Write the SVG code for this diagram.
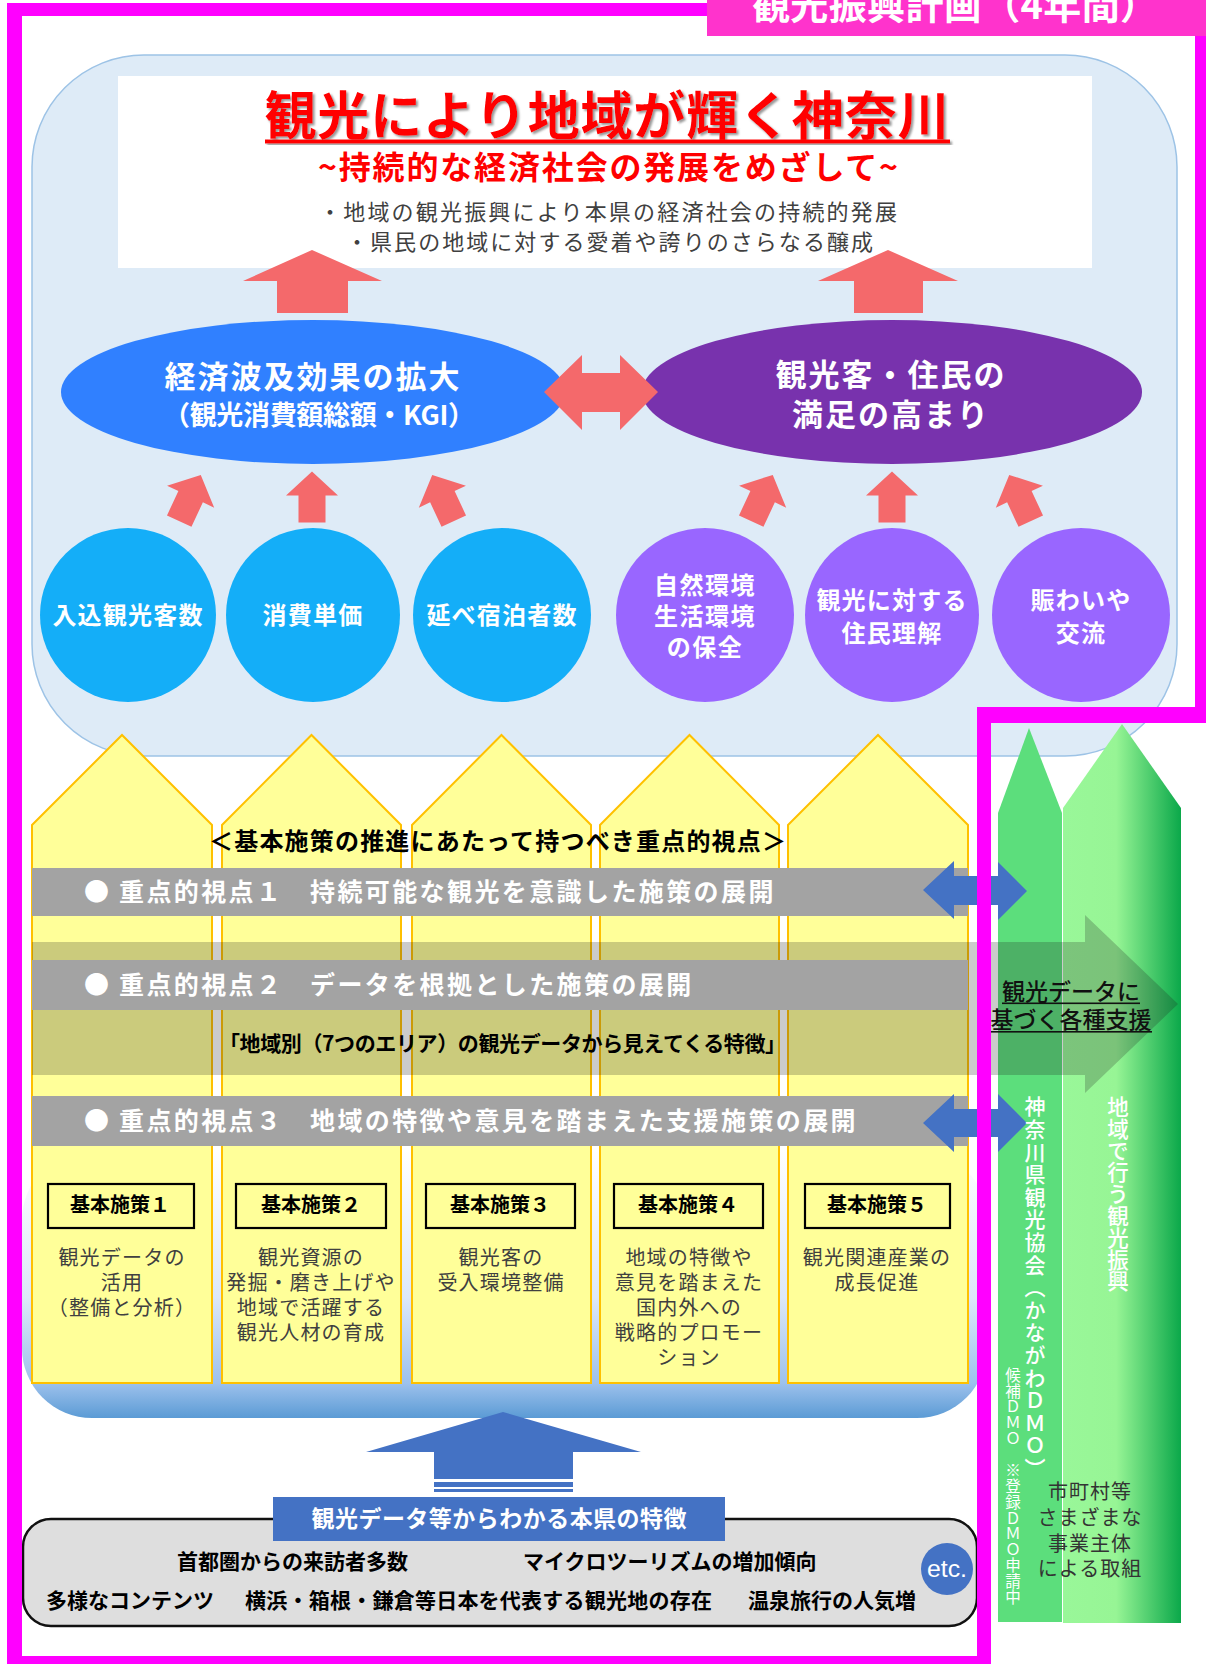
<svg xmlns="http://www.w3.org/2000/svg" width="1206" height="1664" viewBox="0 0 1206 1664">
<defs>
<style>
.jp{font-family:'Noto Sans CJK JP','Noto Sans CJK SC',sans-serif}
.b{font-weight:bold}
.w{fill:#ffffff}
.k{fill:#000000}
.g{fill:#404040}
.mid{text-anchor:middle}
.col{fill:#FFFF99;stroke:#FFC000;stroke-width:2}
.bar{fill:#A3A3A3}
.salmon{fill:#F4696B}
.blue{fill:#4472C4}
.cb{fill:#14AEF8}
.cp{fill:#9966FF}
.kbox{fill:#FFFF99;stroke:#000;stroke-width:2.2}
.vt{writing-mode:vertical-rl}
.mag{fill:#FF00FF}
</style>
<filter id="shadow" x="-5%" y="-20%" width="110%" height="140%">
<feDropShadow dx="2" dy="2" stdDeviation="1" flood-color="#7f7f7f" flood-opacity="0.8"/>
</filter>
<linearGradient id="botGrad" gradientUnits="userSpaceOnUse" x1="0" y1="1150" x2="0" y2="1418">
<stop offset="0" stop-color="#FFFFFF"/>
<stop offset="0.55" stop-color="#DDE8F8"/>
<stop offset="0.87" stop-color="#9DC1EC"/>
<stop offset="1" stop-color="#5B9BD5"/>
</linearGradient>
<linearGradient id="greenGrad" gradientUnits="userSpaceOnUse" x1="1063" y1="0" x2="1181" y2="0">
<stop offset="0" stop-color="#99F799"/>
<stop offset="0.45" stop-color="#97F595"/>
<stop offset="1" stop-color="#0BA84A"/>
</linearGradient>
<path id="upArrow" d="M0,-25.5 L26,-1.5 L13.5,-1.5 L13.5,25.5 L-13.5,25.5 L-13.5,-1.5 L-26,-1.5 Z"/>
</defs>

<rect x="0" y="0" width="1206" height="1664" fill="#ffffff"/>

<!-- top panel -->
<g id="panel">
<rect x="32" y="55" width="1145" height="701" rx="112" ry="112" fill="#DEEBF7" stroke="#9DC3E6" stroke-width="1.5"/>
</g>

<g id="goal">
<rect x="118" y="76" width="974" height="192" fill="#ffffff"/>
<text class="jp b mid" x="607" y="135" font-size="52" fill="#FF0000" filter="url(#shadow)" textLength="685" lengthAdjust="spacing">観光により地域が輝く神奈川</text>
<rect x="265" y="139.5" width="685" height="4" fill="#FF0000" filter="url(#shadow)"/>
<text class="jp b mid" x="608" y="179" font-size="32" fill="#FF0000" textLength="580" lengthAdjust="spacing">~持続的な経済社会の発展をめざして~</text>
<text class="jp g" x="319" y="220" font-size="22" textLength="578" lengthAdjust="spacing">・地域の観光振興により本県の経済社会の持続的発展</text>
<text class="jp g" x="346" y="250" font-size="22" textLength="527" lengthAdjust="spacing">・県民の地域に対する愛着や誇りのさらなる醸成</text>
</g>

<g id="ellipse-economy">
<ellipse cx="313" cy="392" rx="252" ry="72" fill="#3080FF"/>
<text class="jp b w mid" x="313" y="388" font-size="31" letter-spacing="2">経済波及効果の拡大</text>
<text class="jp b w mid" x="319" y="425" font-size="27" textLength="312" lengthAdjust="spacing">（観光消費額総額・KGI）</text>
</g>
<g id="ellipse-satisfaction">
<ellipse cx="892" cy="392" rx="250" ry="72" fill="#7832AD"/>
<text class="jp b w mid" x="891" y="386" font-size="31" letter-spacing="2">観光客・住民の</text>
<text class="jp b w mid" x="891" y="426" font-size="31" letter-spacing="2">満足の高まり</text>
</g>

<g id="c1"><ellipse class="cb" cx="128" cy="615" rx="88" ry="87"/><text class="jp b w mid" x="128" y="624" font-size="24" letter-spacing="1.2">入込観光客数</text></g>
<g id="c2"><ellipse class="cb" cx="313" cy="615" rx="87" ry="87"/><text class="jp b w mid" x="313" y="624" font-size="24" letter-spacing="1.2">消費単価</text></g>
<g id="c3"><ellipse class="cb" cx="502" cy="615" rx="89" ry="87"/><text class="jp b w mid" x="502" y="624" font-size="24" letter-spacing="1.2">延べ宿泊者数</text></g>
<g id="c4"><ellipse class="cp" cx="705" cy="615" rx="89" ry="87"/>
<text class="jp b w mid" x="705" y="594" font-size="24" letter-spacing="1.5">自然環境</text>
<text class="jp b w mid" x="705" y="625" font-size="24" letter-spacing="1.5">生活環境</text>
<text class="jp b w mid" x="705" y="656" font-size="24" letter-spacing="1.5">の保全</text></g>
<g id="c5"><ellipse class="cp" cx="892" cy="615" rx="87" ry="87"/>
<text class="jp b w mid" x="892" y="609" font-size="24" letter-spacing="1.2">観光に対する</text>
<text class="jp b w mid" x="892" y="642" font-size="24" letter-spacing="1.2">住民理解</text></g>
<g id="c6"><ellipse class="cp" cx="1081" cy="615" rx="89" ry="87"/>
<text class="jp b w mid" x="1081" y="609" font-size="24" letter-spacing="1.2">賑わいや</text>
<text class="jp b w mid" x="1081" y="642" font-size="24" letter-spacing="1.2">交流</text></g>

<g id="connectors">
<path class="salmon" d="M312,250 L382,281 L348,281 L348,313 L277,313 L277,281 L243,281 Z"/>
<path class="salmon" d="M888,250 L958,281 L923,281 L923,313 L854,313 L854,281 L818,281 Z"/>
<path class="salmon" d="M544,392 L582,355 L582,373 L620,373 L620,355 L658,392 L620,430 L620,412 L582,412 L582,430 Z"/>
<use href="#upArrow" class="salmon" transform="translate(190,498) rotate(25)"/>
<use href="#upArrow" class="salmon" transform="translate(312,497)"/>
<use href="#upArrow" class="salmon" transform="translate(443,498) rotate(-25)"/>
<use href="#upArrow" class="salmon" transform="translate(762,498) rotate(25)"/>
<use href="#upArrow" class="salmon" transform="translate(892,497)"/>
<use href="#upArrow" class="salmon" transform="translate(1020,498) rotate(-25)"/>
</g>

<!-- bottom gradient base -->
<g id="base">
<rect x="22" y="1150" width="965" height="268" rx="70" ry="70" fill="url(#botGrad)"/>
</g>

<!-- yellow columns -->
<g id="columns">
<path class="col" d="M32,825 L122,735 L212,825 V1383 H32 Z"/>
<path class="col" d="M222,825 L311.5,735 L401,825 V1383 H222 Z"/>
<path class="col" d="M412,825 L501.5,735 L591,825 V1383 H412 Z"/>
<path class="col" d="M600,825 L689.5,735 L779,825 V1383 H600 Z"/>
<path class="col" d="M788,825 L878,735 L968,825 V1383 H788 Z"/>
</g>

<!-- green arrows -->
<g id="green-local">
<path d="M1063,808 L1122,724 L1181,808 V1623 H1063 Z" fill="url(#greenGrad)"/>
</g>
<g id="green-dmo">
<path d="M998,813 L1029,728 L1062,813 V1622 H998 Z" fill="#5CDE7C"/>
</g>

<!-- translucent data arrow -->
<g id="data-arrow">
<path d="M32,942 H1085 V915 L1178,1004 L1085,1093 V1075 H32 Z" fill="#1e1e1e" fill-opacity="0.23"/>
</g>

<g id="viewpoints">
<text class="jp b k" x="209" y="850" font-size="24" textLength="577" lengthAdjust="spacing">＜基本施策の推進にあたって持つべき重点的視点＞</text>
<rect class="bar" x="32" y="868" width="936" height="48"/>
<text class="jp b w" y="901" font-size="25" letter-spacing="2.4"><tspan x="84">●</tspan><tspan x="119">重点的視点１</tspan><tspan x="310">持続可能な観光を意識した施策の展開</tspan></text>
<rect class="bar" x="32" y="960" width="936" height="50"/>
<text class="jp b w" y="994" font-size="25" letter-spacing="2.4"><tspan x="84">●</tspan><tspan x="119">重点的視点２</tspan><tspan x="310">データを根拠とした施策の展開</tspan></text>
<text class="jp b k" x="219" y="1051" font-size="21" textLength="567" lengthAdjust="spacing">「地域別（7つのエリア）の観光データから見えてくる特徴」</text>
<rect class="bar" x="32" y="1096" width="936" height="50"/>
<text class="jp b w" y="1130" font-size="25" letter-spacing="2.4"><tspan x="84">●</tspan><tspan x="119">重点的視点３</tspan><tspan x="310">地域の特徴や意見を踏まえた支援施策の展開</tspan></text>
</g>

<g id="link-arrows">
<path class="blue" d="M923,890 L954,861 L954,876 L998,876 L998,862 L1027,891 L998,920 L998,905 L954,905 L954,919 Z"/>
<path class="blue" d="M923,1123 L954,1094 L954,1109 L998,1109 L998,1094 L1027,1123 L998,1152 L998,1137 L954,1137 L954,1152 Z"/>
</g>

<g id="measure1">
<rect class="kbox" x="48" y="1184" width="146" height="44"/>
<text class="jp b k mid" x="120" y="1212" font-size="20">基本施策１</text>
<text class="jp g mid" font-size="20" letter-spacing="1.2"><tspan x="122" y="1265">観光データの</tspan><tspan x="122" y="1290">活用</tspan><tspan x="122" y="1315">（整備と分析）</tspan></text>
</g>
<g id="measure2">
<rect class="kbox" x="236" y="1184" width="150" height="44"/>
<text class="jp b k mid" x="311" y="1212" font-size="20">基本施策２</text>
<text class="jp g mid" font-size="20" letter-spacing="1.2"><tspan x="311" y="1265">観光資源の</tspan><tspan x="311" y="1290">発掘・磨き上げや</tspan><tspan x="311" y="1315">地域で活躍する</tspan><tspan x="311" y="1340">観光人材の育成</tspan></text>
</g>
<g id="measure3">
<rect class="kbox" x="426" y="1184" width="149" height="44"/>
<text class="jp b k mid" x="500" y="1212" font-size="20">基本施策３</text>
<text class="jp g mid" font-size="20" letter-spacing="1.2"><tspan x="501" y="1265">観光客の</tspan><tspan x="501" y="1290">受入環境整備</tspan></text>
</g>
<g id="measure4">
<rect class="kbox" x="614" y="1184" width="149" height="44"/>
<text class="jp b k mid" x="688" y="1212" font-size="20">基本施策４</text>
<text class="jp g mid" font-size="20" letter-spacing="1.2"><tspan x="689" y="1265">地域の特徴や</tspan><tspan x="689" y="1290">意見を踏まえた</tspan><tspan x="689" y="1315">国内外への</tspan><tspan x="689" y="1340">戦略的プロモー</tspan><tspan x="689" y="1365">ション</tspan></text>
</g>
<g id="measure5">
<rect class="kbox" x="805" y="1184" width="145" height="44"/>
<text class="jp b k mid" x="877" y="1212" font-size="20">基本施策５</text>
<text class="jp g mid" font-size="20" letter-spacing="1.2"><tspan x="877" y="1265">観光関連産業の</tspan><tspan x="877" y="1290">成長促進</tspan></text>
</g>

<g id="support-label">
<text class="jp mid" x="1071" y="1000" font-size="23" fill="#111" font-weight="500">観光データに</text>
<rect x="1002" y="1002.5" width="138" height="1.6" fill="#111"/>
<text class="jp mid" x="1071" y="1028" font-size="23" fill="#111" font-weight="500">基づく各種支援</text>
<rect x="990" y="1031" width="162" height="1.6" fill="#111"/>
</g>

<g id="dmo-label">
<text class="jp w vt" x="1035" y="1096" font-size="21" letter-spacing="1.6" font-weight="500">神奈川県観光協会（かながわＤＭＯ）</text>
<text class="jp w vt" x="1013" y="1367" font-size="15.5" letter-spacing="0.4">候補ＤＭＯ　※登録ＤＭＯ申請中</text>
</g>
<g id="local-label">
<text class="jp w vt" x="1118" y="1096" font-size="21.5" letter-spacing="0.3" font-weight="500">地域で行う観光振興</text>
<text class="jp mid" font-size="20" fill="#333" letter-spacing="1"><tspan x="1090" y="1499">市町村等</tspan><tspan x="1090" y="1525">さまざまな</tspan><tspan x="1090" y="1551">事業主体</tspan><tspan x="1090" y="1576">による取組</tspan></text>
</g>

<!-- bottom features -->
<g id="data-up-arrow">
<path class="blue" d="M503,1412 L641,1452 L573,1452 L573,1479 L434,1479 L434,1452 L366,1452 Z"/>
<rect class="blue" x="434" y="1482" width="139" height="5"/>
<rect class="blue" x="434" y="1489" width="139" height="3"/>
</g>
<g id="features">
<rect x="23" y="1519" width="954" height="107" rx="28" ry="28" fill="#DEDEDE" stroke="#111" stroke-width="2.5"/>
<rect class="blue" x="273" y="1497" width="452" height="44"/>
<text class="jp b w mid" x="499" y="1527" font-size="23" textLength="375" lengthAdjust="spacing">観光データ等からわかる本県の特徴</text>
<text class="jp b k" x="177" y="1569" font-size="21">首都圏からの来訪者多数</text>
<text class="jp b k" x="523" y="1569" font-size="21">マイクロツーリズムの増加傾向</text>
<text class="jp b k" x="46" y="1608" font-size="21">多様なコンテンツ</text>
<text class="jp b k" x="245" y="1608" font-size="21" textLength="467" lengthAdjust="spacing">横浜・箱根・鎌倉等日本を代表する観光地の存在</text>
<text class="jp b k" x="748" y="1608" font-size="21">温泉旅行の人気増</text>
<circle class="blue" cx="947" cy="1569" r="26"/>
<text x="947" y="1577" font-family="'Liberation Sans',Arial,sans-serif" font-size="24" fill="#fff" text-anchor="middle" textLength="40" lengthAdjust="spacingAndGlyphs">etc.</text>
</g>

<!-- magenta frame -->
<g id="frame">
<rect class="mag" x="7" y="3" width="1199" height="13"/>
<rect class="mag" x="7" y="3" width="15" height="1661"/>
<rect class="mag" x="1195" y="3" width="11" height="720"/>
<rect class="mag" x="977" y="707" width="229" height="16"/>
<rect class="mag" x="977" y="707" width="14" height="957"/>
<rect class="mag" x="7" y="1656" width="984" height="8"/>
</g>
<g id="plan-label">
<rect x="707" y="0" width="499" height="36" fill="#FF33CC"/>
<text class="jp b w" x="752" y="19" font-size="38" textLength="406" lengthAdjust="spacing">観光振興計画（4年間）</text>
</g>
</svg>
